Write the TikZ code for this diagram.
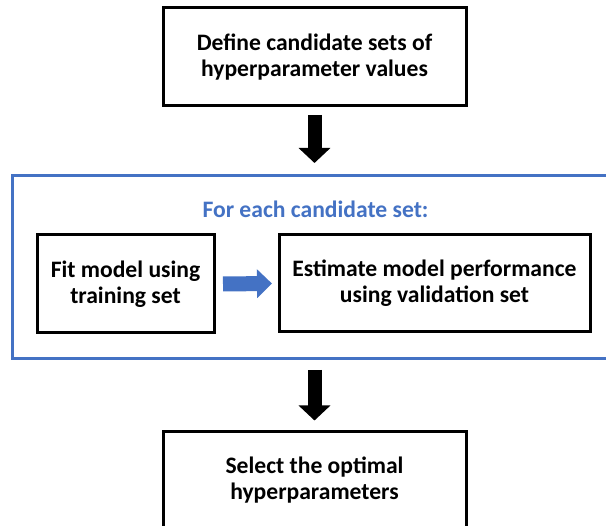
\documentclass[tikz,border=0pt]{standalone}
\usepackage{fontspec}
\setmainfont{Carlito}
\usetikzlibrary{arrows.meta,calc}
\definecolor{officeblue}{HTML}{4472C4}
\begin{document}
\begin{tikzpicture}[x=1pt,y=-1pt,
  every node/.style={outer sep=0pt, inner sep=0pt},
  txt/.style={font=\fontsize{23.6}{26}\selectfont\bfseries, align=center},
  stepbox/.style={txt, draw=black, line width=3pt, fill=white},
  loopbox/.style={draw=officeblue, line width=3pt},
  bigarrow/.style={black, line width=14pt, -{Triangle[width=31pt,length=15pt]}},
  bluearrow/.style={officeblue, line width=15pt, -{Triangle[width=28pt,length=15pt]}}]
  % page area
  \clip (0,0) rectangle (606,526);
  \fill[white] (0,0) rectangle (606,526);

  % loop frame and its title
  \node[loopbox, minimum width=600pt, minimum height=183pt] (loop) at (312,267.5) {};
  \node[txt, text=officeblue] (title) at (315.5,209) {For each candidate set:};

  % process steps
  \node[stepbox, minimum width=303pt, minimum height=98pt] (define) at (314.5,57)
    {Define candidate sets of\\hyperparameter values};
  \node[stepbox, minimum width=177pt, minimum height=98pt] (fit) at (125.5,284)
    {Fit model using\\training set};
  \node[stepbox, minimum width=311pt, minimum height=97pt] (estimate) at (434.5,283.5)
    {Estimate model performance\\using validation set};
  \node[stepbox, minimum width=303pt, minimum height=98pt] (select) at (314.5,480.5)
    {Select the optimal\\hyperparameters};

  % connectors
  \draw[bigarrow, shorten <=9pt, shorten >=13pt] (define.south) -- (loop.north -| define.south);
  \draw[bigarrow, shorten <=11pt, shorten >=11pt] (loop.south -| select.north) -- (select.north);
  \draw[bluearrow, shorten <=9pt, shorten >=7pt] (fit.east) -- (estimate.west);
\end{tikzpicture}
\end{document}
